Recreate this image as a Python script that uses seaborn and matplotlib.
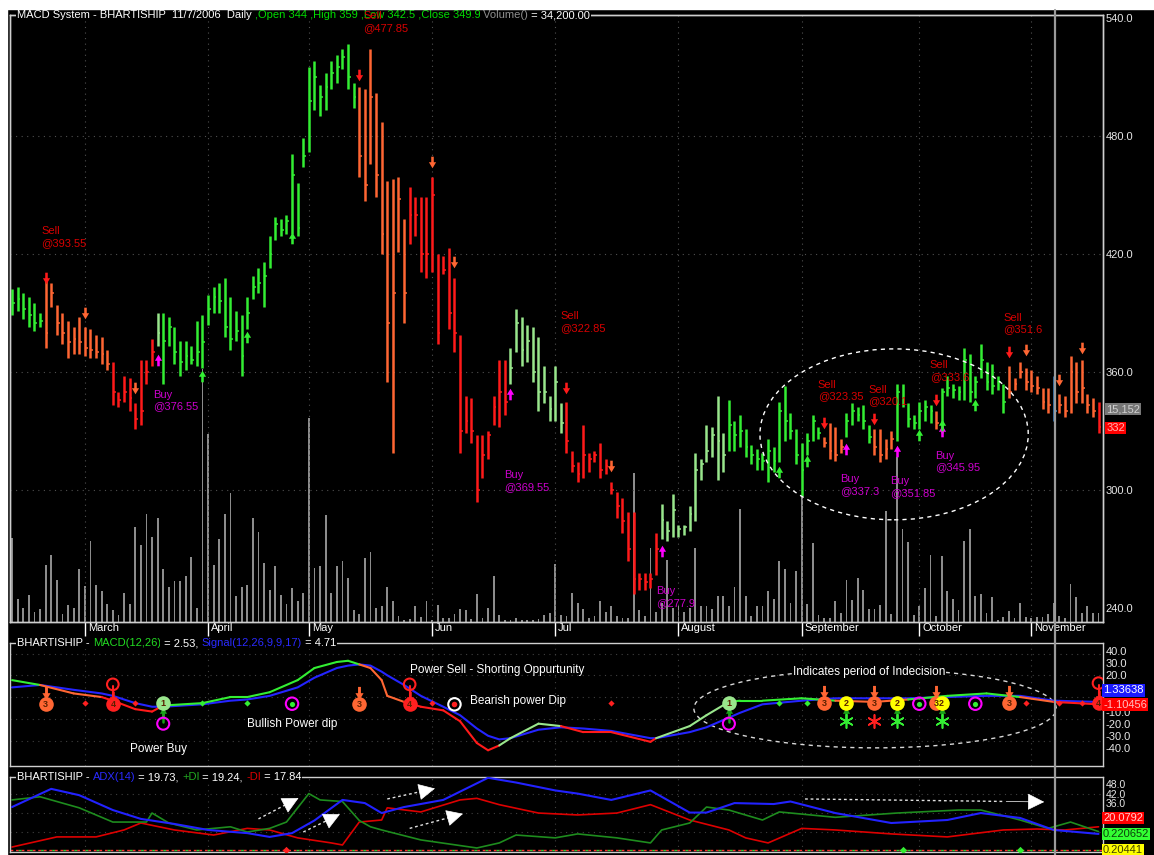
import numpy as np
import pandas as pd
import seaborn as sns
import matplotlib.pyplot as plt
from matplotlib.path import Path
from matplotlib.patches import Ellipse, Rectangle
from matplotlib.lines import Line2D
from matplotlib.transforms import ScaledTranslation

sns.set_theme(style="dark", rc={"axes.facecolor": "black", "figure.facecolor": "black"})
plt.rcParams["font.family"] = ["Liberation Sans", "DejaVu Sans"]

# ---------------- price data ----------------
high = [402, 403, 400, 398, 395, 390, 407, 405, 394, 390, 386, 383, 388, 383, 382, 379, 378, 371, 365, 350,
        358, 357, 344, 366, 366, 377, 390, 390, 388, 383, 376, 376, 373, 386, 389, 399, 403, 405, 408, 398,
        391, 389, 398, 409, 413, 416, 429, 439, 438, 440, 471, 456, 479, 515, 518, 506, 512, 518, 521, 524,
        527, 507, 505, 504, 524, 502, 487, 457, 458, 459, 438, 454, 449, 449, 449, 459, 420, 419, 423, 408,
        379, 348, 347, 328, 328, 330, 348, 366, 366, 372, 392, 388, 384, 383, 378, 363, 348, 363, 344, 345,
        320, 314, 333, 319, 320, 324, 316, 304, 299, 296, 289, 289, 258, 258, 258, 278, 293, 284, 298, 282,
        282, 292, 319, 316, 333, 332, 348, 329, 346, 335, 338, 331, 323, 321, 319, 326, 322, 345, 353, 339,
        331, 324, 329, 338, 332, 327, 334, 332, 326, 339, 344, 342, 343, 333, 331, 331, 326, 330, 354, 354,
        344, 338, 345, 346, 343, 340, 352, 358, 354, 353, 372, 369, 358, 374, 365, 364, 358, 354, 363, 357,
        365, 362, 361, 358, 352, 352, 358, 349, 348, 368, 365, 366, 349, 347, 345]
low = [389, 391, 387, 383, 381, 383, 372, 393, 379, 374, 367, 369, 369, 368, 367, 367, 364, 361, 343, 342,
       345, 340, 331, 333, 354, 363, 373, 354, 373, 364, 358, 361, 364, 363, 362, 384, 390, 390, 378, 371,
       376, 358, 382, 397, 400, 393, 413, 427, 429, 430, 430, 429, 464, 472, 493, 490, 493, 504, 507, 514,
       504, 494, 459, 447, 466, 449, 420, 355, 319, 421, 385, 425, 429, 411, 408, 411, 374, 410, 382, 370,
       319, 329, 324, 294, 306, 316, 333, 332, 338, 354, 370, 363, 365, 355, 340, 344, 335, 335, 329, 319,
       309, 304, 306, 309, 314, 306, 308, 298, 286, 278, 264, 247, 249, 249, 250, 257, 275, 274, 276, 276,
       277, 279, 284, 305, 314, 317, 305, 309, 320, 320, 322, 317, 313, 310, 310, 304, 309, 314, 325, 326,
       313, 297, 318, 325, 326, 322, 316, 315, 319, 327, 333, 335, 331, 324, 318, 314, 316, 321, 325, 342,
       332, 331, 331, 335, 334, 331, 329, 348, 347, 346, 346, 345, 347, 357, 351, 349, 351, 339, 347, 351,
       357, 351, 350, 349, 341, 339, 335, 339, 337, 339, 344, 344, 339, 337, 329]
close = [395, 397, 392, 389, 385, 386, 380, 400, 385, 380, 375, 377, 375, 372, 371, 370, 369, 364, 350, 346,
         350, 347, 336, 340, 360, 370, 380, 376, 383, 370, 365, 368, 366, 370, 375, 392, 398, 396, 383, 377,
         381, 368, 390, 403, 405, 409, 420, 435, 432, 437, 460, 433, 470, 498, 510, 500, 505, 512, 515, 520,
         510, 500, 470, 455, 500, 460, 430, 385, 400, 448, 400, 440, 440, 420, 420, 450, 380, 412, 390, 380,
         330, 335, 330, 300, 318, 328, 342, 350, 345, 362, 385, 371, 376, 360, 350, 350, 341, 355, 334, 325,
         312, 308, 318, 316, 318, 310, 312, 300, 292, 284, 270, 255, 255, 253, 255, 270, 285, 279, 290, 280,
         281, 288, 310, 313, 320, 328, 325, 318, 333, 328, 330, 322, 318, 316, 315, 320, 315, 340, 335, 330,
         318, 310, 325, 335, 329, 324, 320, 318, 322, 335, 340, 338, 335, 327, 322, 318, 321, 326, 350, 346,
         336, 334, 340, 342, 340, 334, 350, 352, 351, 350, 366, 350, 355, 366, 355, 353, 355, 345, 350, 354,
         360, 355, 353, 352, 345, 343, 340, 343, 340, 360, 350, 352, 343, 340, 332]
volume = [84, 23, 14, 27, 10, 13, 57, 67, 42, 8, 17, 14, 53, 36, 81, 37, 31, 18, 12, 7,
          29, 18, 95, 77, 108, 85, 104, 53, 35, 41, 41, 46, 65, 14, 253, 188, 57, 83, 108, 129,
          26, 35, 37, 104, 90, 59, 32, 56, 27, 18, 34, 21, 29, 204, 54, 56, 107, 29, 56, 61,
          44, 12, 8, 64, 70, 14, 16, 35, 21, 6, 2, 3, 16, 5, 21, 2, 17, 4, 4, 8,
          13, 12, 3, 28, 4, 14, 46, 7, 2, 2, 4, 2, 2, 2, 3, 7, 9, 58, 7, 6,
          29, 19, 13, 4, 6, 21, 10, 16, 6, 4, 4, 149, 12, 6, 74, 10, 19, 62, 14, 16,
          10, 14, 74, 16, 16, 13, 26, 26, 16, 35, 113, 26, 6, 16, 16, 31, 23, 61, 53, 19,
          51, 125, 18, 79, 7, 4, 4, 21, 9, 42, 22, 44, 32, 13, 13, 17, 111, 8, 165, 93,
          80, 7, 16, 34, 67, 6, 66, 31, 23, 12, 81, 93, 26, 28, 9, 25, 2, 5, 11, 4,
          19, 5, 4, 5, 5, 8, 19, 6, 4, 38, 25, 9, 16, 9, 9]
# bar colour state: g=up trend, p=weak up, o=weak down, r=down, b=cursor bar
bar_state = ("g" * 6 + "o" * 12 + "r" * 8 + "p" + "g" * 35 + "o" * 9 + "r" * 18 + "p" * 10 + "r" * 17
             + "p" * 12 + "g" * 17 + "o" * 4 + "g" * 5 + "o" * 4 + "g" * 7 + "o" + "g" * 12 + "o" * 8 + "b"
             + "o" * 7 + "r")

month_bar = [14, 36, 54, 76, 98, 120, 142, 163, 183]
month_names = ["March", "April", "May", "Jun", "Jul", "August", "September", "October", "November"]

sell_arrows = [(7, 408, "r"), (14, 390, "o"), (23, 352, "o"), (63, 511, "r"), (76, 467, "o"), (80, 416, "o"),
               (100, 352, "r"), (108, 312, "o"), (146, 334, "r"), (155, 336, "r"), (166, 346, "r"),
               (179, 370, "r"), (182, 371, "o"), (188, 356, "o"), (192, 372, "o")]
buy_arrows = [(27, 366, "m"), (35, 358, "g"), (43, 378, "g"), (51, 428, "g"), (90, 349, "m"), (117, 269, "m"),
              (138, 309, "g"), (143, 315, "g"), (150, 321, "m"), (159, 320, "m"), (163, 328, "g"),
              (167, 330, "m"), (167, 333, "g"), (173, 343, "g")]
trade_labels = [(6.2, 434, "Sell\n@393.55", "s"), (26.2, 351, "Buy\n@376.55", "b"), (63.7, 543.5, "Sell\n@477.85", "s"),
                (88.9, 310, "Buy\n@369.55", "b"), (98.9, 391, "Sell\n@322.85", "s"), (116, 251, "Buy\n@277.9", "b"),
                (144.9, 356, "Sell\n@323.35", "s"), (153.9, 353.4, "Sell\n@320.1", "s"), (164.9, 366, "Sell\n@333.6", "s"),
                (148.9, 308, "Buy\n@337.3", "b"), (157.8, 307, "Buy\n@351.85", "b"), (165.8, 320, "Buy\n@345.95", "b"),
                (178, 390, "Sell\n@351.6", "s")]

# ---------------- MACD data ----------------
macd_x = [1, 6, 12, 17, 19, 23, 26, 28, 35, 40, 43, 47, 52, 55, 59, 61, 63, 65, 67, 68, 71, 74, 78, 81,
          84, 86, 88, 90, 95, 99, 103, 108, 115, 116, 122, 125, 129, 131, 135, 142, 148, 155, 161, 168,
          175, 181, 187, 195]
macd = [16, 12, 5, 2, -1, -8, -10, -5, -3, 2, 2, 6, 16, 26, 31, 32, 29, 26, 16, 3, -2, -6, -9, -18,
        -36, -42, -38, -32, -20, -22, -27, -27, -35, -32, -22, -13, -2, -1, -1, 1, -1, -2, 0, 3, 5, 2, -2, -4]
signal = [10, 12, 8, 5, 3, -3, -6, -6, -4, -1, 0, 3, 10, 18, 26, 28, 29, 28, 23, 20, 12, 3, -6, -13,
          -24, -30, -33, -32, -25, -23, -24, -26, -32, -32, -27, -23, -15, -11, -4, -1, 1, 1, 1, 2, 3, 3, -1, -2]
macd_state = "g" + "oo" + "rrrr" + "g" * 9 + "oooo" + "r" * 6 + "ppp" + "rrrr" + "ppp" + "gggg" + "oo" + "ggg" + "o" + "r"

stage_marks = [(7, -4, "3"), (19, -4, "4"), (28, -3, "1"), (63, -4, "3"), (72, -4, "4"), (129, -3, "1"),
               (146, -3, "3"), (150, -3, "2"), (155, -3, "3"), (159, -3, "2"), (166, -3, "3"), (167, -3, "2"),
               (179, -3, "3"), (195, -3, "4")]
red_dots = [14, 23, 76, 108, 182, 188, 192]
green_dots = [35, 43, 138, 143]
dip_marks = [51, 163, 173]

# ---------------- ADX data ----------------
adx_x = [1, 8, 13, 19, 24, 30, 36, 43, 47, 51, 55, 60, 64, 67, 71, 78, 86, 91, 98, 102, 108, 115, 122, 125,
         130, 137, 140, 148, 158, 168, 174, 181, 187, 195]
adx = [33.5, 45, 41, 31.6, 26, 22.8, 19, 17, 14.6, 17, 25, 38, 36, 29.7, 33.5, 38, 52, 49, 44, 42, 38, 44,
       30, 30, 36, 35.4, 37, 29.7, 23.4, 25.3, 29.7, 26.6, 19, 16.5]
pdi_x = [1, 6, 13, 19, 25, 26, 29, 34, 40, 43, 47, 50, 52, 54, 56, 60, 63, 65, 67, 74, 84, 88, 91, 98, 102,
         109, 115, 117, 122, 125, 129, 135, 138, 148, 159, 170, 174, 181, 186, 190, 195]
pdi = [38, 40, 33, 24, 24, 29.7, 23.4, 19, 21, 17.7, 20, 24, 33, 42, 38, 37, 25, 21, 19, 12.7, 7.6, 10.8,
       15.8, 14, 16.5, 14, 10.8, 19, 23.4, 33.5, 31.6, 25.3, 30.4, 27, 29.7, 31.6, 31.6, 25.3, 20, 24, 18]
mdi_x = [1, 9, 16, 21, 24, 30, 37, 43, 47, 52, 58, 60, 63, 67, 68, 74, 81, 84, 88, 95, 102, 109, 115, 122,
         129, 132, 136, 142, 148, 158, 168, 178, 184, 189, 195]
mdi = [8.2, 14.6, 14.6, 19, 23.4, 19, 15.8, 20, 19, 14, 10.8, 9.5, 24, 25.3, 33, 30.4, 38, 39, 35, 29.7,
       28.5, 29.7, 35, 25.3, 19, 14, 10.8, 20, 19, 16.5, 14.6, 19, 19.6, 19, 21]
trend_arrows = [(45, 26, 52.6, 40), (53, 17.7, 60, 29.7), (68, 38.6, 77, 45.6), (72, 20, 82, 29.7),
                (142.6, 38.6, 185.8, 36.7)]

COL = {"g": "#33ee33", "p": "#99e68c", "o": "#ff6633", "r": "#ff1a1a", "b": "#3a86c8", "m": "#ff00ff"}
FRAME = "#cfcfcf"
W, H = 1154, 855


def box(x0, y0, x1, y1):
    return [x0 / W, 1 - y1 / H, (x1 - x0) / W, (y1 - y0) / H]


def chain(axis, x, y, pieces, size=8):
    t = axis.text(x, y, pieces[0][0], color=pieces[0][1], transform=axis.transAxes, fontsize=size,
                  va="center", ha="left", zorder=5, bbox=dict(fc="black", ec="none", pad=0.5))
    for s, c in pieces[1:]:
        t = axis.annotate(s, xy=(1, 0), xycoords=t, va="bottom", ha="left", color=c, fontsize=size,
                          zorder=5, bbox=dict(fc="black", ec="none", pad=0.5))


dv = [(-0.22, 1), (0.22, 1), (0.22, 0.05), (0.62, 0.05), (0, -1), (-0.62, 0.05), (-0.22, 0.05), (-0.22, 1)]
codes = [Path.MOVETO] + [Path.LINETO] * 6 + [Path.CLOSEPOLY]
down_arrow = Path(dv, codes)
up_arrow = Path([(a, -b) for a, b in dv], codes)

df = pd.DataFrame({"bar": np.arange(1, len(high) + 1), "high": high, "low": low, "close": close,
                   "volume": volume, "state": list(bar_state)})
df["color"] = df.state.map(COL)

fig = plt.figure(figsize=(11.54, 8.55), dpi=100)
fig.patches.append(Rectangle((0, 1 - 9 / H), 1, 9 / H, transform=fig.transFigure, color="white", zorder=0))
fig.patches.append(Rectangle((0, 0), 7 / W, 1, transform=fig.transFigure, color="white", zorder=0))

ax_vol = fig.add_axes(box(10, 15, 1103, 622))
ax = ax_vol.twinx()
ax_macd = fig.add_axes(box(10, 643, 1103, 766))
ax_adx = fig.add_axes(box(10, 777, 1103, 852))
xlim = (0.64, 195.8)

for a in (ax_vol, ax, ax_macd, ax_adx):
    a.set_xlim(*xlim)
    a.set_facecolor("black")
    for sp in a.spines.values():
        sp.set_color(FRAME)
        sp.set_linewidth(1)
    a.set_xlabel("")
    a.set_ylabel("")
ax.patch.set_visible(False)

# ---- volume
ax_vol.bar(df.bar, df.volume, width=0.32, color="#8c8c8c", edgecolor="none", lw=0, zorder=1)
ax_vol.set_ylim(0, 607)
ax_vol.tick_params(axis="y", left=False, labelleft=False, right=False)
ax_vol.set_xticks(month_bar)
ax_vol.set_xticklabels(month_names)
ax_vol.tick_params(axis="x", bottom=True, length=10, width=1, color="white", labelcolor="white",
                   labelsize=8, pad=-9.5)
shift = ScaledTranslation(3 / 100, 0, fig.dpi_scale_trans)
for lab in ax_vol.get_xticklabels():
    lab.set_ha("left")
    lab.set_transform(lab.get_transform() + shift)

# ---- price bars
ax.set_ylim(232.9, 541.5)
for m in month_bar:
    ax.axvline(m, color="#505050", lw=0.8, ls=(0, (1, 4)), zorder=0)
for lvl in [480, 420, 360, 300]:
    ax.axhline(lvl, color="#505050", lw=0.8, ls=(0, (1, 4)), zorder=0)
ax.vlines(df.bar, df.low, df.high, colors=df.color, lw=1.8, zorder=2)
ax.hlines(df.close, df.bar, df.bar + 0.5, colors=df.color, lw=1.1, zorder=2)
ax.set_yticks([540, 480, 420, 360, 300, 240])
ax.set_yticklabels([f"{v:.1f}" for v in [540, 480, 420, 360, 300, 240]])
ax.tick_params(axis="y", right=True, labelright=True, length=0, pad=2, labelsize=8, labelcolor="#e6e6e6")
ax.tick_params(axis="x", bottom=False, labelbottom=False)

for b, p, c in sell_arrows:
    ax.scatter([b], [p], marker=down_arrow, s=70, color=COL[c], lw=0, zorder=4)
for b, p, c in buy_arrows:
    ax.scatter([b], [p], marker=up_arrow, s=70, color=COL[c], lw=0, zorder=4)
for b, p, txt, kind in trade_labels:
    ax.text(b, p, txt, color="#d80000" if kind == "s" else "#cc00cc", fontsize=8, va="top", ha="left",
            linespacing=1.2, zorder=6, clip_on=False)
ax.add_patch(Ellipse((158.5, 328.3), 47.9, 86.9, fill=False, ec="white", lw=1, ls=(0, (3, 3)), zorder=3))

ax.text(1.003, 341, "15,152", transform=ax.get_yaxis_transform(), fontsize=8, color="#d0d0d0", va="center",
        bbox=dict(fc="#777777", ec="none", pad=0.8), zorder=7, clip_on=False)
ax.text(1.003, 331.6, "332", transform=ax.get_yaxis_transform(), fontsize=8, color="#ffb0b0", va="center",
        bbox=dict(fc="#ff0000", ec="none", pad=0.8), zorder=7, clip_on=False)

chain(ax, 0.0064, 1.0, [("MACD System - BHARTISHIP  11/7/2006  Daily ", "white"),
                        (",Open 344 ,High 359 ,Low 342.5 ,Close 349.9", "#00dd00"),
                        (" Volume()", "#909090"), (" = 34,200.00", "white")])

# ---- MACD panel
ax_macd.set_ylim(-55, 46.7)
for m in month_bar:
    ax_macd.axvline(m, color="#404040", lw=0.8, ls=(0, (1, 4)), zorder=0)
for lvl in [38, 20, 2, -16, -34]:
    ax_macd.axhline(lvl, color="#404040", lw=0.8, ls=(0, (1, 4)), zorder=0)
sns.lineplot(x=macd_x, y=signal, ax=ax_macd, color="#2424ff", lw=1.5, zorder=2)
for i in range(len(macd_x) - 1):
    ax_macd.plot(macd_x[i:i + 2], macd[i:i + 2], color=COL[macd_state[i]], lw=1.5, zorder=3,
                 solid_capstyle="round")

stage_col = {"1": "#99e68c", "2": "#ffff00", "3": "#ff6633", "4": "#ff2020"}
for b, v, n in stage_marks:
    c = stage_col[n]
    if n == "3":
        ax_macd.scatter([b], [v + 9], marker=down_arrow, s=90, color=c, lw=0, zorder=4)
    elif n == "4":
        ax_macd.plot([b, b], [v, v + 15], color=c, lw=1.5, zorder=4)
        ax_macd.scatter([b], [v + 16.5], s=70, facecolors="none", edgecolors=c, lw=1.5, zorder=4)
        ax_macd.scatter([b], [v + 6], marker=down_arrow, s=70, color=c, lw=0, zorder=4)
    elif n == "1":
        ax_macd.plot([b, b], [v - 16, v], color="#1aa01a", lw=1.8, zorder=4)
        ax_macd.scatter([b], [v - 8], marker=up_arrow, s=70, color="#1aa01a", lw=0, zorder=4)
        ax_macd.scatter([b], [v - 17], s=75, facecolors="none", edgecolors="#ff00ff", lw=1.5, zorder=4)
    else:
        ax_macd.plot([b, b], [v - 15, v], color="#1aa01a", lw=1.8, zorder=4)
        ax_macd.scatter([b], [v - 8], marker=up_arrow, s=70, color="#1aa01a", lw=0, zorder=4)
        ax_macd.scatter([b], [v - 15], marker=(6, 2, 0), s=90, color="#33ee33", lw=1.2, zorder=4)
    ax_macd.scatter([b], [v], s=110, color=c, lw=0, zorder=5)
    ax_macd.text(b, v, n, fontsize=6.5, color="#5a2000", ha="center", va="center", zorder=6, fontweight="bold")
ax_macd.scatter([155], [-18], marker=(6, 2, 0), s=90, color="#ff2020", lw=1.2, zorder=4)
ax_macd.scatter(red_dots, [-3] * len(red_dots), marker="D", s=10, color="#ff2020", lw=0, zorder=4)
ax_macd.scatter(green_dots, [-3] * len(green_dots), marker="D", s=10, color="#33ee33", lw=0, zorder=4)
ax_macd.scatter(dip_marks, [-3.5] * len(dip_marks), s=80, facecolors="none", edgecolors="#ff00ff", lw=1.5, zorder=4)
ax_macd.scatter(dip_marks, [-3.5] * len(dip_marks), s=14, color="#33ee33", lw=0, zorder=5)
ax_macd.scatter([80], [-4], s=80, facecolors="none", edgecolors="white", lw=1.5, zorder=4)
ax_macd.scatter([80], [-4], s=16, color="#ff2020", lw=0, zorder=5)

ax_macd.add_patch(Ellipse((155.1, -7.5), 64.7, 65, fill=False, ec="#d8d8d8", lw=1, ls=(0, (3, 3)), zorder=1))
ax_macd.text(154, 22.5, "Indicates period of Indecision", color="white", fontsize=8.5, ha="center",
             va="center", zorder=6, bbox=dict(fc="black", ec="none", pad=0.3))
ax_macd.text(72.1, 24, "Power Sell - Shorting Oppurtunity", color="white", fontsize=8.5, va="center", zorder=6)
ax_macd.text(82.8, -1, "Bearish power Dip", color="white", fontsize=8.5, va="center", zorder=6)
ax_macd.text(43, -20, "Bullish Power dip", color="white", fontsize=8.5, va="center", zorder=6)
ax_macd.text(22, -41, "Power Buy", color="white", fontsize=8.5, va="center", zorder=6)

ax_macd.yaxis.tick_right()
macd_ticks = [40, 30, 20, -10, -20, -30, -40]
ax_macd.set_yticks(macd_ticks)
ax_macd.set_yticklabels([f"{v:.1f}" for v in macd_ticks])
ax_macd.tick_params(axis="y", right=True, left=False, length=0, pad=2, labelsize=8, labelcolor="#e6e6e6")
ax_macd.set_xticks([])
ax_macd.text(1.0, 7.5, "1.33638", transform=ax_macd.get_yaxis_transform(), fontsize=8, color="white",
             va="center", bbox=dict(fc="#1a1aff", ec="none", pad=0.8), zorder=7, clip_on=False)
ax_macd.text(1.0, -4.2, "-1.10456", transform=ax_macd.get_yaxis_transform(), fontsize=8, color="#ffc0c0",
             va="center", bbox=dict(fc="#ff0000", ec="none", pad=0.8), zorder=7, clip_on=False)
chain(ax_macd, 0.0064, 1.0, [("BHARTISHIP - ", "white"), ("MACD(12,26)", "#22dd22"), (" = 2.53, ", "white"),
                             ("Signal(12,26,9,9,17)", "#2a2aff"), (" = 4.71", "white")])

# ---- ADX panel
ax_adx.set_ylim(5.06, 52.5)
for m in month_bar:
    ax_adx.axvline(m, color="#404040", lw=0.8, ls=(0, (1, 4)), zorder=0)
for lvl in [42, 30, 18]:
    ax_adx.axhline(lvl, color="#404040", lw=0.8, ls=(0, (1, 4)), zorder=0)
ax_adx.axhline(6.3, color="#ff3030", lw=1, ls=(0, (2, 2)), zorder=1)
ax_adx.axhline(6.3, color="#33cc33", lw=1, ls=(2, (2, 6)), zorder=1)
sns.lineplot(x=mdi_x, y=mdi, ax=ax_adx, color="#dd0000", lw=1.2, zorder=2)
sns.lineplot(x=pdi_x, y=pdi, ax=ax_adx, color="#1e8c1e", lw=1.2, zorder=2)
sns.lineplot(x=adx_x, y=adx, ax=ax_adx, color="#2222ff", lw=1.5, zorder=3)
ax_adx.scatter([160, 181], [6.3, 6.3], marker="D", s=14, color="#33ee33", lw=0, zorder=4)
ax_adx.scatter([50], [6.3], marker="D", s=14, color="#ff2020", lw=0, zorder=4)
for x0, y0, x1, y1 in trend_arrows:
    fx = x0 + (x1 - x0) * 0.82
    fy = y0 + (y1 - y0) * 0.82
    ax_adx.plot([x0, fx], [y0, fy], color="#e0e0e0", lw=1, ls=(0, (2, 2)), zorder=5)
    ax_adx.annotate("", xy=(x1, y1), xytext=(fx, fy),
                    arrowprops=dict(arrowstyle="-|>,head_length=0.9,head_width=0.45", color="white", lw=0.5),
                    zorder=5)
ax_adx.set_xlabel("")
ax_adx.set_ylabel("")
ax_adx.yaxis.tick_right()
adx_ticks = [48, 42, 36]
ax_adx.set_yticks(adx_ticks)
ax_adx.set_yticklabels([f"{v:.1f}" for v in adx_ticks])
ax_adx.tick_params(axis="y", right=True, left=False, length=0, pad=2, labelsize=7.5, labelcolor="#e6e6e6")
ax_adx.set_xticks([])
ax_adx.set_xlim(*xlim)
ax_macd.set_xlim(*xlim)
ax_adx.text(1.0, 26.6, "20.0792", transform=ax_adx.get_yaxis_transform(), fontsize=8, color="#ffd0d0",
            va="center", bbox=dict(fc="#ff0000", ec="none", pad=0.8), zorder=7, clip_on=False)
ax_adx.text(1.0, 16.5, "0.220652", transform=ax_adx.get_yaxis_transform(), fontsize=8, color="#0a400a",
            va="center", bbox=dict(fc="#33ff33", ec="none", pad=0.8), zorder=7, clip_on=False)
ax_adx.text(1.0, 6.3, "0.20441", transform=ax_adx.get_yaxis_transform(), fontsize=8, color="#404000",
            va="center", bbox=dict(fc="#ffff00", ec="none", pad=0.8), zorder=7, clip_on=False)
chain(ax_adx, 0.0064, 1.0, [("BHARTISHIP - ", "white"), ("ADX(14)", "#2a2aff"), (" = 19.73, ", "white"),
                            ("+DI", "#22aa22"), (" = 19.24, ", "white"), ("-DI", "#dd0000"), (" = 17.84", "white")])

# cursor line through all panels
fig.lines.append(Line2D([1055 / W, 1055 / W], [0, 1 - 10 / H], transform=fig.transFigure,
                        color="#9a9a9a", lw=1.6, zorder=10))

fig.savefig("out.png", dpi=100, facecolor="black")
